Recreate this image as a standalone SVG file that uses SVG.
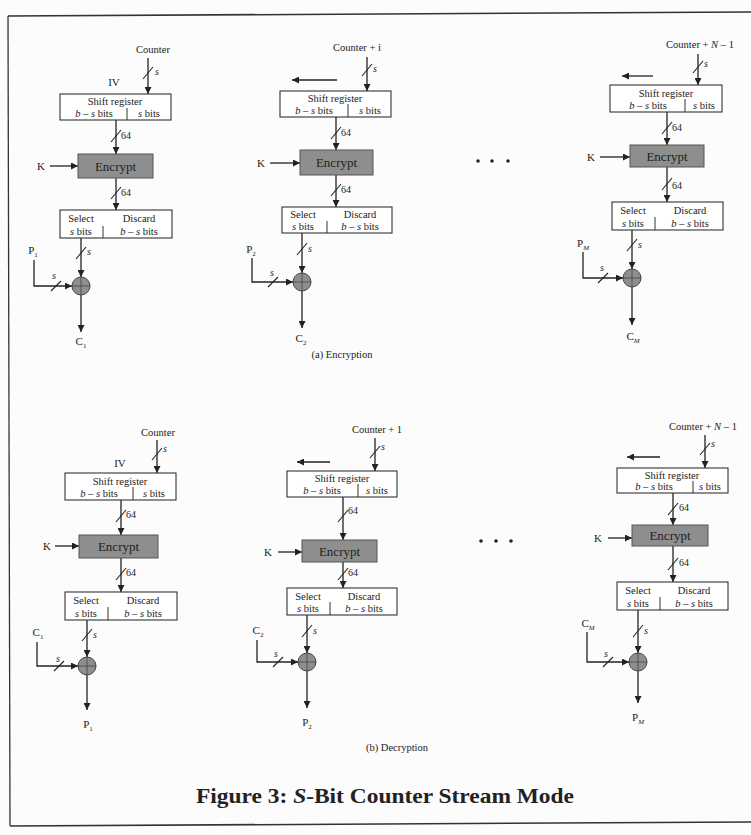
<svg xmlns="http://www.w3.org/2000/svg" width="751" height="835" viewBox="0 0 751 835">
<defs>
<marker id="ah" viewBox="0 0 10 10" refX="10" refY="5" markerWidth="7" markerHeight="7" markerUnits="userSpaceOnUse" orient="auto">
<path d="M0,0 L10,5 L0,10 z" fill="#222"/>
</marker>
</defs>
<style>
text{font-family:"Liberation Serif","Times New Roman",serif;fill:#222}
.t{font-size:10px}
.sm{font-size:10.5px;text-anchor:middle}
.enc-t{font-size:13px;text-anchor:middle}
.lab{font-size:11px;text-anchor:middle}
.it{font-style:italic}
.box{fill:#fff;stroke:#333;stroke-width:1.1}
.enc{fill:#8e8e8e;stroke:#555;stroke-width:1}
.xor{fill:#8e8e8e;stroke:#444;stroke-width:1}
.ln{stroke:#222;stroke-width:1.3;fill:none}
.arr{marker-end:url(#ah)}
.sl{stroke:#222;stroke-width:1.1}
.div{stroke:#333;stroke-width:1}
.cap{font-size:22px;font-weight:bold;text-anchor:middle}
</style>
<rect width="751" height="835" fill="#fcfcfc"/>
<g id="frame">
<path d="M8,16 L751,12" stroke="#333" stroke-width="1.6" fill="none"/>
<path d="M8,16 L10,826" stroke="#333" stroke-width="1.3" fill="none"/>
<path d="M10,826 L751,822" stroke="#333" stroke-width="1.6" fill="none"/>
</g>

<g id="connectors">
<!-- A1 -->
<line class="ln arr" x1="148" y1="58" x2="148" y2="94"/>
<line class="sl" x1="143" y1="79" x2="153" y2="67"/>
<line class="ln arr" x1="116" y1="120" x2="116" y2="154"/>
<line class="sl" x1="111" y1="142" x2="121" y2="130"/>
<line class="ln arr" x1="50" y1="166" x2="78" y2="166"/>
<line class="ln arr" x1="116" y1="178" x2="116" y2="210"/>
<line class="sl" x1="111" y1="199" x2="121" y2="187"/>
<line class="ln arr" x1="81" y1="238" x2="81" y2="277"/>
<line class="sl" x1="76" y1="259" x2="86" y2="247"/>
<polyline class="ln arr" points="34,260 34,286 72,286"/>
<line class="sl" x1="51" y1="291" x2="61" y2="281"/>
<line class="ln arr" x1="81" y1="295" x2="81" y2="332"/>
<!-- A2 -->
<line class="ln arr" x1="367" y1="57" x2="367" y2="91"/>
<line class="sl" x1="362" y1="76" x2="372" y2="64"/>
<line class="ln arr" x1="337" y1="80" x2="292" y2="80"/>
<line class="ln arr" x1="336" y1="117" x2="336" y2="150"/>
<line class="sl" x1="331" y1="139" x2="341" y2="127"/>
<line class="ln arr" x1="270" y1="163" x2="300" y2="163"/>
<line class="ln arr" x1="336" y1="175" x2="336" y2="207"/>
<line class="sl" x1="331" y1="196" x2="341" y2="184"/>
<line class="ln arr" x1="302" y1="233" x2="302" y2="273"/>
<line class="sl" x1="297" y1="255" x2="307" y2="243"/>
<polyline class="ln arr" points="252,258 252,282 293,282"/>
<line class="sl" x1="268" y1="287" x2="278" y2="277"/>
<line class="ln arr" x1="302" y1="291" x2="302" y2="328"/>
<!-- A3 -->
<line class="ln arr" x1="698" y1="54" x2="698" y2="85"/>
<line class="sl" x1="693" y1="73" x2="703" y2="61"/>
<line class="ln arr" x1="653" y1="76" x2="622" y2="76"/>
<line class="ln arr" x1="667" y1="112" x2="667" y2="145"/>
<line class="sl" x1="662" y1="134" x2="672" y2="122"/>
<line class="ln arr" x1="600" y1="157" x2="630" y2="157"/>
<line class="ln arr" x1="667" y1="167" x2="667" y2="202"/>
<line class="sl" x1="662" y1="190" x2="672" y2="178"/>
<line class="ln arr" x1="632" y1="230" x2="632" y2="269"/>
<line class="sl" x1="627" y1="251" x2="637" y2="239"/>
<polyline class="ln arr" points="583,252 583,278 623,278"/>
<line class="sl" x1="598" y1="283" x2="608" y2="273"/>
<line class="ln arr" x1="632" y1="287" x2="632" y2="325"/>
<!-- B1 -->
<line class="ln arr" x1="157" y1="440" x2="157" y2="473"/>
<line class="sl" x1="152" y1="460" x2="162" y2="448"/>
<line class="ln arr" x1="121" y1="500" x2="121" y2="535"/>
<line class="sl" x1="116" y1="522" x2="126" y2="510"/>
<line class="ln arr" x1="55" y1="546" x2="79" y2="546"/>
<line class="ln arr" x1="121" y1="558" x2="121" y2="592"/>
<line class="sl" x1="116" y1="580" x2="126" y2="568"/>
<line class="ln arr" x1="87" y1="620" x2="87" y2="657"/>
<line class="sl" x1="82" y1="641" x2="92" y2="629"/>
<polyline class="ln arr" points="37,642 37,666 78,666"/>
<line class="sl" x1="54" y1="671" x2="64" y2="661"/>
<line class="ln arr" x1="87" y1="675" x2="87" y2="710"/>
<!-- B2 -->
<line class="ln arr" x1="375" y1="438" x2="375" y2="471"/>
<line class="sl" x1="370" y1="458" x2="380" y2="446"/>
<line class="ln arr" x1="330" y1="462" x2="297" y2="462"/>
<line class="ln arr" x1="343" y1="497" x2="343" y2="540"/>
<line class="sl" x1="338" y1="522" x2="348" y2="510"/>
<line class="ln arr" x1="278" y1="552" x2="302" y2="552"/>
<line class="ln arr" x1="343" y1="562" x2="343" y2="588"/>
<line class="sl" x1="338" y1="580" x2="348" y2="568"/>
<line class="ln arr" x1="307" y1="615" x2="307" y2="653"/>
<line class="sl" x1="302" y1="637" x2="312" y2="625"/>
<polyline class="ln arr" points="257,640 257,662 298,662"/>
<line class="sl" x1="273" y1="667" x2="283" y2="657"/>
<line class="ln arr" x1="307" y1="671" x2="307" y2="708"/>
<!-- B3 -->
<line class="ln arr" x1="705" y1="435" x2="705" y2="468"/>
<line class="sl" x1="700" y1="455" x2="710" y2="443"/>
<line class="ln arr" x1="660" y1="457" x2="627" y2="457"/>
<line class="ln arr" x1="673" y1="493" x2="673" y2="525"/>
<line class="sl" x1="668" y1="515" x2="678" y2="503"/>
<line class="ln arr" x1="608" y1="538" x2="632" y2="538"/>
<line class="ln arr" x1="673" y1="546" x2="673" y2="582"/>
<line class="sl" x1="668" y1="570" x2="678" y2="558"/>
<line class="ln arr" x1="638" y1="610" x2="638" y2="653"/>
<line class="sl" x1="633" y1="637" x2="643" y2="625"/>
<polyline class="ln arr" points="587,632 587,662 629,662"/>
<line class="sl" x1="603" y1="667" x2="613" y2="657"/>
<line class="ln arr" x1="638" y1="671" x2="638" y2="703"/>
</g>

<g id="edge-labels">
<text class="t it" x="155" y="75">s</text>
<text class="t" x="121" y="139">64</text>
<text class="t" x="121" y="196">64</text>
<text class="t it" x="87" y="255">s</text>
<text class="t it" x="52" y="279">s</text>

<text class="t it" x="373" y="72">s</text>
<text class="t" x="341" y="136">64</text>
<text class="t" x="341" y="193">64</text>
<text class="t it" x="308" y="252">s</text>
<text class="t it" x="270" y="276">s</text>

<text class="t it" x="704" y="67">s</text>
<text class="t" x="672" y="131">64</text>
<text class="t" x="672" y="189">64</text>
<text class="t it" x="638" y="248">s</text>
<text class="t it" x="600" y="271">s</text>

<text class="t it" x="163" y="452">s</text>
<text class="t" x="126" y="518">64</text>
<text class="t" x="126" y="576">64</text>
<text class="t it" x="93" y="638">s</text>
<text class="t it" x="56" y="662">s</text>

<text class="t it" x="381" y="450">s</text>
<text class="t" x="348" y="514">64</text>
<text class="t" x="348" y="576">64</text>
<text class="t it" x="313" y="634">s</text>
<text class="t it" x="274" y="657">s</text>

<text class="t it" x="711" y="447">s</text>
<text class="t" x="679" y="511">64</text>
<text class="t" x="679" y="566">64</text>
<text class="t it" x="644" y="634">s</text>
<text class="t it" x="604" y="657">s</text>
</g>

<!-- A1 nodes -->
<g id="a1-counter"><text class="sm" x="153" y="53">Counter</text></g>
<g id="a1-iv"><text class="lab" x="114" y="86">IV</text></g>
<g id="a1-shift">
<rect class="box" x="60" y="94" width="111" height="26"/>
<line class="div" x1="127" y1="108" x2="127" y2="120"/>
<text class="sm" x="115" y="105">Shift register</text>
<text class="sm" x="94" y="117"><tspan class="it">b</tspan> – <tspan class="it">s</tspan> bits</text>
<text class="sm" x="149" y="117"><tspan class="it">s</tspan> bits</text>
</g>
<g id="a1-encrypt">
<rect class="enc" x="78" y="154" width="75" height="24"/>
<text class="enc-t" x="115.5" y="171">Encrypt</text>
</g>
<g id="a1-k"><text class="lab" x="41" y="170">K</text></g>
<g id="a1-select">
<rect class="box" x="60" y="210" width="112" height="28"/>
<line class="div" x1="103" y1="226" x2="103" y2="238"/>
<text class="sm" x="81" y="222">Select</text>
<text class="sm" x="139" y="222">Discard</text>
<text class="sm" x="81" y="235"><tspan class="it">s</tspan> bits</text>
<text class="sm" x="139" y="235"><tspan class="it">b</tspan> – <tspan class="it">s</tspan> bits</text>
</g>
<g id="a1-xor">
<circle class="xor" cx="81" cy="286" r="9"/>
<path d="M72,286 H90 M81,277 V295" stroke="#444" stroke-width="0.8"/>
</g>
<g id="a1-p"><text class="lab" x="33" y="254">P<tspan font-size="7" dy="3">1</tspan></text></g>
<g id="a1-c"><text class="lab" x="81" y="345">C<tspan font-size="7" dy="3">1</tspan></text></g>

<!-- A2 nodes -->
<g id="a2-counter"><text class="sm" x="357" y="51">Counter + i</text></g>
<g id="a2-shift">
<rect class="box" x="280" y="91" width="111" height="26"/>
<line class="div" x1="348" y1="104" x2="348" y2="117"/>
<text class="sm" x="335" y="102">Shift register</text>
<text class="sm" x="314" y="114"><tspan class="it">b</tspan> – <tspan class="it">s</tspan> bits</text>
<text class="sm" x="370" y="114"><tspan class="it">s</tspan> bits</text>
</g>
<g id="a2-encrypt">
<rect class="enc" x="300" y="150" width="73" height="25"/>
<text class="enc-t" x="336.5" y="167">Encrypt</text>
</g>
<g id="a2-k"><text class="lab" x="261" y="167">K</text></g>
<g id="a2-select">
<rect class="box" x="282" y="207" width="110" height="26"/>
<line class="div" x1="327" y1="221" x2="327" y2="233"/>
<text class="sm" x="303" y="218">Select</text>
<text class="sm" x="360" y="218">Discard</text>
<text class="sm" x="303" y="230"><tspan class="it">s</tspan> bits</text>
<text class="sm" x="360" y="230"><tspan class="it">b</tspan> – <tspan class="it">s</tspan> bits</text>
</g>
<g id="a2-xor">
<circle class="xor" cx="302" cy="282" r="9"/>
<path d="M293,282 H311 M302,273 V291" stroke="#444" stroke-width="0.8"/>
</g>
<g id="a2-p"><text class="lab" x="251" y="253">P<tspan font-size="7" dy="3">2</tspan></text></g>
<g id="a2-c"><text class="lab" x="301" y="342">C<tspan font-size="7" dy="3">2</tspan></text></g>

<!-- A3 nodes -->
<g id="a3-counter"><text class="sm" x="700" y="48">Counter + <tspan class="it">N</tspan> – 1</text></g>
<g id="a3-shift">
<rect class="box" x="610" y="85" width="112" height="27"/>
<line class="div" x1="685" y1="99" x2="685" y2="112"/>
<text class="sm" x="666" y="97">Shift register</text>
<text class="sm" x="648" y="109"><tspan class="it">b</tspan> – <tspan class="it">s</tspan> bits</text>
<text class="sm" x="704" y="109"><tspan class="it">s</tspan> bits</text>
</g>
<g id="a3-encrypt">
<rect class="enc" x="630" y="145" width="74" height="22"/>
<text class="enc-t" x="667" y="161">Encrypt</text>
</g>
<g id="a3-k"><text class="lab" x="591" y="161">K</text></g>
<g id="a3-select">
<rect class="box" x="612" y="202" width="111" height="28"/>
<line class="div" x1="655" y1="217" x2="655" y2="230"/>
<text class="sm" x="633" y="214">Select</text>
<text class="sm" x="690" y="214">Discard</text>
<text class="sm" x="633" y="227"><tspan class="it">s</tspan> bits</text>
<text class="sm" x="690" y="227"><tspan class="it">b</tspan> – <tspan class="it">s</tspan> bits</text>
</g>
<g id="a3-xor">
<circle class="xor" cx="632" cy="278" r="9"/>
<path d="M623,278 H641 M632,269 V287" stroke="#444" stroke-width="0.8"/>
</g>
<g id="a3-p"><text class="lab" x="583" y="247">P<tspan font-size="7" dy="3" class="it">M</tspan></text></g>
<g id="a3-c"><text class="lab" x="633" y="340">C<tspan font-size="7" dy="3" class="it">M</tspan></text></g>

<g id="a-dots" fill="#222">
<circle cx="478" cy="161" r="1.8"/><circle cx="492" cy="161" r="1.8"/><circle cx="508" cy="161" r="1.8"/>
</g>
<g id="a-title"><text class="sm" x="342" y="358">(a) Encryption</text></g>

<!-- B1 nodes -->
<g id="b1-counter"><text class="sm" x="158" y="436">Counter</text></g>
<g id="b1-iv"><text class="lab" x="120" y="467">IV</text></g>
<g id="b1-shift">
<rect class="box" x="65" y="473" width="111" height="27"/>
<line class="div" x1="133" y1="487" x2="133" y2="500"/>
<text class="sm" x="120" y="485">Shift register</text>
<text class="sm" x="99" y="497"><tspan class="it">b</tspan> – <tspan class="it">s</tspan> bits</text>
<text class="sm" x="154" y="497"><tspan class="it">s</tspan> bits</text>
</g>
<g id="b1-encrypt">
<rect class="enc" x="79" y="535" width="79" height="23"/>
<text class="enc-t" x="118.5" y="551">Encrypt</text>
</g>
<g id="b1-k"><text class="lab" x="47" y="550">K</text></g>
<g id="b1-select">
<rect class="box" x="65" y="592" width="112" height="28"/>
<line class="div" x1="108" y1="607" x2="108" y2="620"/>
<text class="sm" x="86" y="604">Select</text>
<text class="sm" x="143" y="604">Discard</text>
<text class="sm" x="86" y="617"><tspan class="it">s</tspan> bits</text>
<text class="sm" x="143" y="617"><tspan class="it">b</tspan> – <tspan class="it">s</tspan> bits</text>
</g>
<g id="b1-xor">
<circle class="xor" cx="87" cy="666" r="9"/>
<path d="M78,666 H96 M87,657 V675" stroke="#444" stroke-width="0.8"/>
</g>
<g id="b1-c"><text class="lab" x="38" y="636">C<tspan font-size="7" dy="3">1</tspan></text></g>
<g id="b1-p"><text class="lab" x="88" y="728">P<tspan font-size="7" dy="3">1</tspan></text></g>

<!-- B2 nodes -->
<g id="b2-counter"><text class="sm" x="377" y="433">Counter + 1</text></g>
<g id="b2-shift">
<rect class="box" x="287" y="471" width="110" height="26"/>
<line class="div" x1="358" y1="484" x2="358" y2="497"/>
<text class="sm" x="342" y="482">Shift register</text>
<text class="sm" x="322" y="494"><tspan class="it">b</tspan> – <tspan class="it">s</tspan> bits</text>
<text class="sm" x="377" y="494"><tspan class="it">s</tspan> bits</text>
</g>
<g id="b2-encrypt">
<rect class="enc" x="302" y="540" width="75" height="22"/>
<text class="enc-t" x="339.5" y="556">Encrypt</text>
</g>
<g id="b2-k"><text class="lab" x="268" y="556">K</text></g>
<g id="b2-select">
<rect class="box" x="287" y="588" width="110" height="27"/>
<line class="div" x1="330" y1="602" x2="330" y2="615"/>
<text class="sm" x="308" y="600">Select</text>
<text class="sm" x="364" y="600">Discard</text>
<text class="sm" x="308" y="612"><tspan class="it">s</tspan> bits</text>
<text class="sm" x="364" y="612"><tspan class="it">b</tspan> – <tspan class="it">s</tspan> bits</text>
</g>
<g id="b2-xor">
<circle class="xor" cx="307" cy="662" r="9"/>
<path d="M298,662 H316 M307,653 V671" stroke="#444" stroke-width="0.8"/>
</g>
<g id="b2-c"><text class="lab" x="258" y="634">C<tspan font-size="7" dy="3">2</tspan></text></g>
<g id="b2-p"><text class="lab" x="307" y="726">P<tspan font-size="7" dy="3">2</tspan></text></g>

<!-- B3 nodes -->
<g id="b3-counter"><text class="sm" x="703" y="430">Counter + <tspan class="it">N</tspan> – 1</text></g>
<g id="b3-shift">
<rect class="box" x="617" y="468" width="111" height="25"/>
<line class="div" x1="693" y1="481" x2="693" y2="493"/>
<text class="sm" x="672" y="479">Shift register</text>
<text class="sm" x="654" y="490"><tspan class="it">b</tspan> – <tspan class="it">s</tspan> bits</text>
<text class="sm" x="710" y="490"><tspan class="it">s</tspan> bits</text>
</g>
<g id="b3-encrypt">
<rect class="enc" x="632" y="525" width="76" height="21"/>
<text class="enc-t" x="670" y="540">Encrypt</text>
</g>
<g id="b3-k"><text class="lab" x="598" y="542">K</text></g>
<g id="b3-select">
<rect class="box" x="617" y="582" width="111" height="28"/>
<line class="div" x1="660" y1="597" x2="660" y2="610"/>
<text class="sm" x="638" y="594">Select</text>
<text class="sm" x="694" y="594">Discard</text>
<text class="sm" x="638" y="607"><tspan class="it">s</tspan> bits</text>
<text class="sm" x="694" y="607"><tspan class="it">b</tspan> – <tspan class="it">s</tspan> bits</text>
</g>
<g id="b3-xor">
<circle class="xor" cx="638" cy="662" r="9"/>
<path d="M629,662 H647 M638,653 V671" stroke="#444" stroke-width="0.8"/>
</g>
<g id="b3-c"><text class="lab" x="588" y="627">C<tspan font-size="7" dy="3" class="it">M</tspan></text></g>
<g id="b3-p"><text class="lab" x="638" y="721">P<tspan font-size="7" dy="3" class="it">M</tspan></text></g>

<g id="b-dots" fill="#222">
<circle cx="481" cy="541" r="1.8"/><circle cx="496" cy="541" r="1.8"/><circle cx="511" cy="541" r="1.8"/>
</g>
<g id="b-title"><text class="sm" x="397" y="751">(b) Decryption</text></g>

<g id="caption">
<text class="cap" x="385" y="803" textLength="378" lengthAdjust="spacingAndGlyphs">Figure 3:  <tspan font-style="italic">S</tspan>-Bit Counter Stream Mode</text>
</g>
</svg>
